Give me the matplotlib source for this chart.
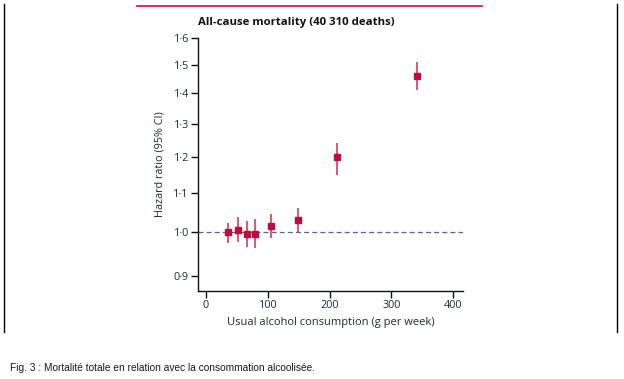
import numpy as np
import matplotlib
matplotlib.use("Agg")
import matplotlib.pyplot as plt
from matplotlib.ticker import FixedLocator, NullLocator

# data
intake = [36, 51, 66, 80, 105, 149, 212, 342]          # g per week
hr = [1.000, 1.006, 0.996, 0.997, 1.016, 1.030, 1.200, 1.460]
ci_low = [0.974, 0.976, 0.965, 0.963, 0.986, 1.000, 1.150, 1.410]
ci_high = [1.024, 1.038, 1.028, 1.034, 1.045, 1.060, 1.240, 1.510]

yticks = [0.9, 1.0, 1.1, 1.2, 1.3, 1.4, 1.5, 1.6]
ytick_labels = ["0·9", "1·0", "1·1", "1·2", "1·3", "1·4", "1·5", "1·6"]
xticks = [0, 100, 200, 300, 400]

red = "#c00d3c"
txt = "#1f2a3a"
plt.rcParams['font.family'] = ['Open Sans', 'DejaVu Sans']

fig = plt.figure(figsize=(6.24, 3.79), dpi=100)
ax = fig.add_axes([198/624, 1 - 291/379, 265/624, 253/379])

hr = np.array(hr)
yerr = [hr - np.array(ci_low), np.array(ci_high) - hr]
ax.errorbar(intake, hr, yerr=yerr, fmt="s", color=red, ecolor="#d64a70",
            elinewidth=1.3, capsize=0, markersize=4.6, zorder=3)
ax.axhline(1.0, color="#4f6b85", lw=0.9, ls=(0, (4, 2.5)), zorder=1)

ax.set_yscale("log")
ax.set_ylim(0.868, 1.6)
ax.set_xlim(-13, 416)
ax.yaxis.set_major_locator(FixedLocator(yticks))
ax.yaxis.set_minor_locator(NullLocator())
ax.set_yticklabels(ytick_labels)
ax.set_xticks(xticks)

for s in ["top", "right"]:
    ax.spines[s].set_visible(False)
for s in ["left", "bottom"]:
    ax.spines[s].set_linewidth(1.0)
    ax.spines[s].set_color("#111111")
ax.tick_params(direction="out", length=5, width=1.0, colors="#111111",
               labelsize=7.8, labelcolor=txt, pad=1.5)

ax.set_ylabel("Hazard ratio (95% CI)", fontsize=7.8, color=txt, labelpad=6)
ax.set_xlabel("Usual alcohol consumption (g per week)", fontsize=8.0,
              color=txt, labelpad=4)
fig.text(198/624, 1 - 22/379, "All-cause mortality (40 310 deaths)",
         fontsize=8.2, fontweight="bold", color="#111111", va="center")

# page decorations: red rule, side borders and caption
fig.add_artist(plt.Line2D([137/624, 482/624], [1 - 6/379, 1 - 6/379],
                          color="#d81b55", lw=1.3))
for xb in [3.5, 617]:
    fig.add_artist(plt.Line2D([xb/624, xb/624], [1 - 4/379, 1 - 332/379],
                              color="black", lw=1.0))
fig.text(10/624, 1 - 368/379,
         "Fig. 3 : Mortalité totale en relation avec la consommation alcoolisée.",
         fontsize=7.3, color="#1a1a1a", va="center",
         family=['Liberation Sans', 'DejaVu Sans'])

plt.savefig("out.png", dpi=100)
